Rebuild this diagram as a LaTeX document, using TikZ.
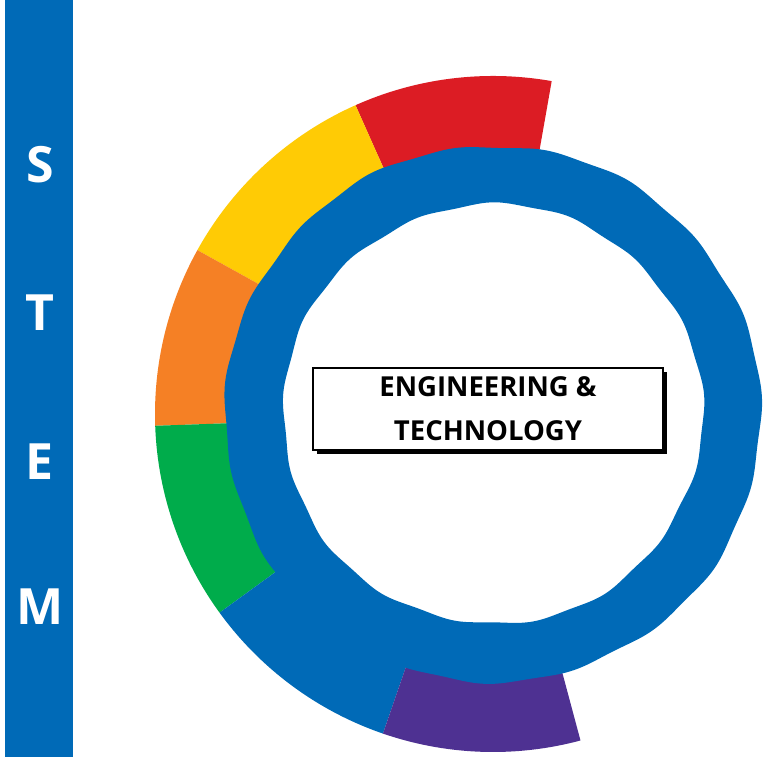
\documentclass[tikz,border=0pt]{standalone}
\usepackage{fontspec}
\setmainfont{Open Sans}
\usetikzlibrary{positioning,shadows}
\definecolor{stemblau}{HTML}{006AB7}
\definecolor{stemrot}{HTML}{DC1C24}
\definecolor{stemgelb}{HTML}{FFCB05}
\definecolor{stemorange}{HTML}{F58025}
\definecolor{stemgruen}{HTML}{00AC4B}
\definecolor{stemlila}{HTML}{4E3192}
\tikzstyle{buchstabe} = [text=white, font=\bfseries\fontsize{50}{60}\selectfont]
\tikzstyle{kasten} = [draw, line width=2pt, fill=white, minimum width=350pt, minimum height=82pt, align=center,
	font=\bfseries\fontsize{27.5}{44}\selectfont,
	drop shadow={shadow xshift=4pt, shadow yshift=-4pt, opacity=1, fill=black}]
\begin{document}
\begin{tikzpicture}[x=1pt,y=1pt]
	\useasboundingbox (0,0) rectangle (764,759);
	\coordinate (m) at (493,345);

	% Balken
	\fill[stemblau] (5,2) rectangle (73,759);
	\foreach \b/\y in {S/165,T/313,E/462,M/607}
		\node[buchstabe] (b\b) at (40,759-\y) {\b};

	% Segmente
	\foreach \w/\v/\f in {80/114/stemrot, 114/151/stemgelb, 151/182/stemorange,
			182/216/stemgruen, 216/251/stemblau, 251/285/stemlila}
		\fill[\f, shift={(m)}] (\w:338) arc[start angle=\w, end angle=\v, radius=338]
			-- (\v:250) arc[start angle=\v, end angle=\w, radius=250] -- cycle;

	% Ring (leicht unrund)
	\fill[stemblau, even odd rule, shift={(m)}]
		plot[smooth cycle, samples=180, domain=0:358] (\x:{268+0.9*sin(7*\x)+1.1*sin(19*\x+30)})
		plot[smooth cycle, samples=180, domain=0:358] (\x:{210+0.9*sin(5*\x+50)+1.1*sin(17*\x)});

	% Kasten
	\node[kasten] (titel) at (488,350) {ENGINEERING \&\\TECHNOLOGY};
\end{tikzpicture}
\end{document}
